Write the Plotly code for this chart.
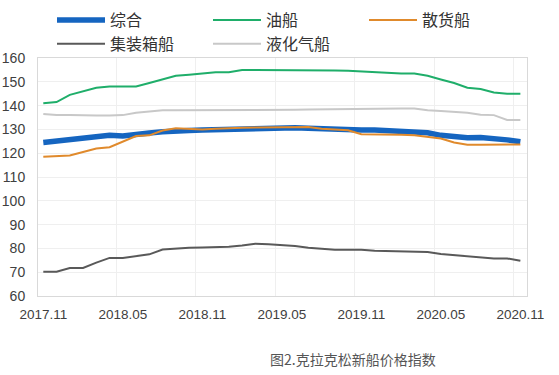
import plotly.graph_objects as go

months = ["2017.11","2017.12","2018.01","2018.02","2018.03","2018.04","2018.05","2018.06","2018.07",
          "2018.08","2018.09","2018.10","2018.11","2018.12","2019.01","2019.02","2019.03","2019.04",
          "2019.05","2019.06","2019.07","2019.08","2019.09","2019.10","2019.11","2019.12","2020.01",
          "2020.02","2020.03","2020.04","2020.05","2020.06","2020.07","2020.08","2020.09","2020.10","2020.11"]

composite = [124.5,125,125.8,126.3,127,127.5,127.2,128,128.5,129,129.5,129.5,129.8,130,130.2,130.4,130.5,130.7,
             130.6,130.7,130.5,130.2,130,129.8,129.8,129.8,129.6,129.4,129.2,128.6,127.5,126.8,126.5,126.6,126.2,125.6,124.8]
tanker = [141,141.5,144.5,146,147.5,148,148,148,149.5,151,152.5,153,153.5,154,154,155,155,155,
          155,155,155,154.7,154.7,154.6,154.3,154,153.6,153.5,153.5,152.5,151,149.5,147.5,147,145.5,145,145]
bulk = [118.5,118.8,119,120.5,122,122.5,125,127.2,127.5,129.5,130.5,130.2,130,130.3,130.6,130.7,130.8,130.8,
        130.8,131,131,130.3,129.8,129.6,128,128,128,127.8,127.5,127,126.2,124.5,123.6,123.5,123.5,123.5,123.7]
container = [70.2,70.2,71.8,71.8,74,76,76,76.7,77.5,79.5,80,80.3,80.4,80.4,80.7,81.2,82,81.7,
             81.5,81,80.3,79.8,79.4,79.4,79.4,79,78.8,78.6,78.6,78.5,77.6,77.2,76.8,76.4,75.8,75.8,74.8]
lng = [136.5,136,136,135.8,135.8,135.8,136,137,137.5,138,138,138,138,138,138.3,138.3,138.3,138.3,
       138.3,138.3,138.4,138.5,138.6,138.7,138.8,138.8,138.8,138.8,138.8,138,137.7,137.5,137,136.2,136,134,134]

tick_labels = ["2017.11","2018.05","2018.11","2019.05","2019.11","2020.05","2020.11"]
yticks = [60,70,80,90,100,110,120,130,140,150,160]

idx = list(range(len(months)))
tick_pos = [months.index(t) for t in tick_labels]

W, H = 559, 375
L, R, T, B = 38, 32, 58, 79

fig = go.Figure()
series = [
    ("综合", composite, "#1565C0", 5.5),
    ("油船", tanker, "#1FAE6A", 2),
    ("散货船", bulk, "#E08A2C", 2),
    ("集装箱船", container, "#595959", 2),
    ("液化气船", lng, "#C8C8C8", 2),
]
for name, vals, color, w in series:
    fig.add_trace(go.Scatter(x=idx, y=vals, name=name, mode="lines",
                             line=dict(color=color, width=w)))

pw = W - L - R
ph = H - T - B

fig.update_layout(
    width=W, height=H,
    margin=dict(l=L, r=R, t=T, b=B, autoexpand=False),
    paper_bgcolor="white", plot_bgcolor="white",
    font=dict(family="Liberation Sans, Noto Sans CJK SC", color="#404040", size=13),
    showlegend=True,
    legend=dict(orientation="h", x=52 / W, y=1 + 55 / ph, xref="container", yref="paper",
                xanchor="left", yanchor="top",
                entrywidth=93, entrywidthmode="pixels", itemwidth=48,
                tracegroupgap=0,
                font=dict(family="Noto Sans CJK SC", size=16, color="#333333"),
                traceorder="normal", bgcolor="rgba(0,0,0,0)"),
    xaxis=dict(range=[-0.4, 36.5], tickmode="array", tickvals=tick_pos, ticktext=tick_labels,
               showgrid=False, zeroline=False, showline=True, linecolor="#D9D9D9", mirror=True,
               ticks="", ticklabelstandoff=6, tickfont=dict(size=13.5, color="#404040")
               , minor=dict(tickmode="array", tickvals=[p - 0.5 for p in tick_pos[1:]],
                          showgrid=True, gridcolor="#EFEFEF", gridwidth=1, ticks="")),
    yaxis=dict(range=[60, 160], tickmode="array", tickvals=yticks, showgrid=True,
               gridcolor="#EFEFEF", zeroline=False, showline=True, linecolor="#D9D9D9", mirror=True,
               ticks="", ticklabelstandoff=9, tickfont=dict(size=14, color="#404040")),
    annotations=[dict(text="图2.克拉克松新船价格指数", x=(268 - L) / pw, y=(H - B - 359) / ph,
                      xref="paper", yref="paper", xanchor="left", yanchor="middle",
                      showarrow=False, font=dict(family="Noto Sans CJK SC", size=14, color="#555555"))],
)

fig.write_html("out.html", config={"displayModeBar": False},
               post_script="document.body.style.margin='0';")
